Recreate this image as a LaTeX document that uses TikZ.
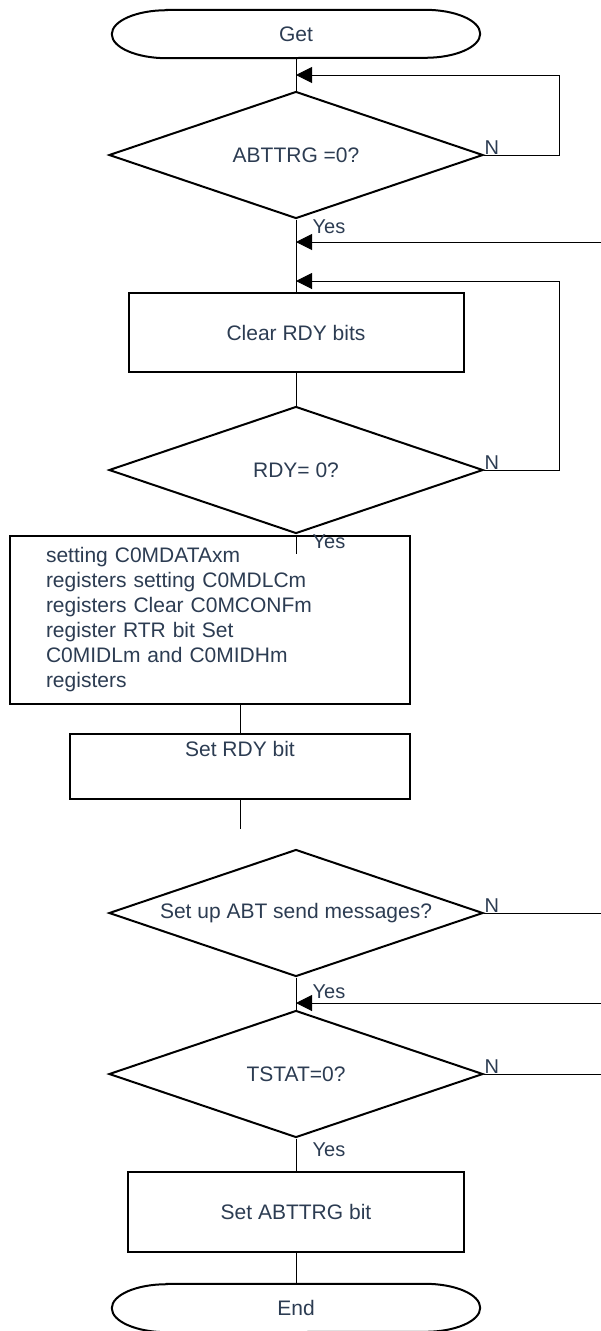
\documentclass[tikz,border=0pt]{standalone}
\usepackage{fontspec}
\setmainfont{Liberation Sans}
\usepackage{tikz}
\usetikzlibrary{arrows.meta, shapes.geometric}
\usetikzlibrary{positioning}
\definecolor{txtcol}{RGB}{44,60,82}
\tikzset{
  txt/.style={text=txtcol, font=\fontsize{21}{25}\selectfont},
  box/.style={txt, draw, line width=2pt, inner sep=0pt},
  decision/.style={txt, diamond, draw, line width=2pt, aspect=2.9, inner sep=0pt, minimum width=374pt, minimum height=127pt},
  terminal/.style={txt, inner sep=0pt, minimum width=368pt, minimum height=48pt},
  lbl/.style={text=txtcol, font=\fontsize{20}{24}\selectfont, inner sep=0.5pt},
  flow/.style={line width=1pt},
  back/.style={flow, -{Triangle[length=16pt,width=16pt]}},
}

\begin{document}
\begin{tikzpicture}[x=1pt,y=-1pt]
  \useasboundingbox (0,0) rectangle (601,1331);
  \coordinate (edge) at (601,0); %右端
  \coordinate (j1) at (296,75);
  \coordinate (j2) at (296,242);
  \coordinate (j3) at (296,281);
  \coordinate (j4) at (296,1003);

  \node[terminal] (get) at (296,34) {Get}; %開始
  \draw[line width=2pt] ([xshift=55pt]get.north west) -- ([xshift=-55pt]get.north east) arc[start angle=90,end angle=-90,x radius=55pt,y radius=24pt] -- ([xshift=55pt]get.south west) arc[start angle=270,end angle=90,x radius=55pt,y radius=24pt] -- cycle;
  \node[decision] (d1) at (296,155) {ABTTRG =0?};
  \node[box, minimum width=335pt, minimum height=79pt] (clr) at (296,332.5) {Clear RDY bits};
  \node[decision] (d2) at (296,470) {RDY= 0?};
  \node[box, text width=328pt, align=left, inner xsep=36pt, minimum height=168pt] (regs) at (210,620) {setting C0MDATAxm\\ registers setting C0MDLCm\\ registers Clear C0MCONFm\\ register RTR bit Set\\ C0MIDLm and C0MIDHm\\ registers};
  \node[box, minimum width=340pt, minimum height=65pt, label={[txt, anchor=north, inner sep=0pt, yshift=-8pt]north:Set RDY bit}] (rdy) at (240,766.5) {};
  \node[decision] (d3) at (296,913) {Set up ABT send messages?};
  \node[decision] (d4) at (296,1074) {TSTAT=0?};
  \node[box, minimum width=336pt, minimum height=80pt] (abt) at (296,1212) {Set ABTTRG bit};
  \node[terminal] (stop) at (296,1308) {End}; %終了
  \draw[line width=2pt] ([xshift=55pt]stop.north west) -- ([xshift=-55pt]stop.north east) arc[start angle=90,end angle=-90,x radius=55pt,y radius=24pt] -- ([xshift=55pt]stop.south west) arc[start angle=270,end angle=90,x radius=55pt,y radius=24pt] -- cycle;

  \draw[flow] (get.south) -- (d1.north);
  \draw[back] (d1.east) -- ++(75,0) |- (j1); %N
  \draw[flow] (d1.south) -- (clr.north);
  \draw[back] (j2 -| edge) -- (j2);
  \draw[flow] (clr.south) -- (d2.north);
  \draw[back] (d2.east) -- ++(75,0) |- (j3); %N
  \draw[flow] (d2.south) -- ++(0,19);
  \draw[flow] (rdy.north |- regs.south) -- (rdy.north);
  \draw[flow] (rdy.south) -- ++(0,29);
  \draw[flow] (d3.east) -- (d3.east -| edge); %N
  \draw[flow] (d3.south) -- (d4.north);
  \draw[back] (j4 -| edge) -- (j4);
  \draw[flow] (d4.east) -- (d4.east -| edge); %N
  \draw[flow] (d4.south) -- (abt.north);
  \draw[flow] (abt.south) -- (stop.north);

  \node[lbl, anchor=south west] (n1) at (d1.east) {N};
  \node[lbl, anchor=north west] (y1) at ([xshift=16pt]d1.south) {Yes};
  \node[lbl, anchor=south west] (n2) at (d2.east) {N};
  \node[lbl, anchor=north west] (y2) at ([xshift=16pt]d2.south) {Yes};
  \node[lbl, anchor=south west] (n3) at (d3.east) {N};
  \node[lbl, anchor=north west] (y3) at ([xshift=16pt,yshift=-7pt]d3.south) {Yes};
  \node[lbl, anchor=south west] (n4) at (d4.east) {N};
  \node[lbl, anchor=north west] (y4) at ([xshift=16pt,yshift=-4pt]d4.south) {Yes};
\end{tikzpicture}
\end{document}
